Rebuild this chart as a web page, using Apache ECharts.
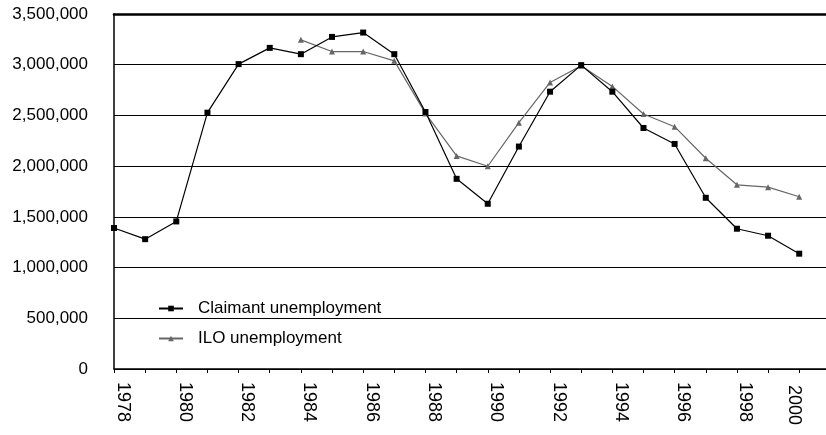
<!DOCTYPE html>
<html>
<head>
<meta charset="utf-8">
<script src="https://cdn.jsdelivr.net/npm/echarts@6/dist/echarts.min.js"></script>
<style>html,body{margin:0;padding:0;background:#fff;}#c{width:826px;height:435px;}</style>
</head>
<body>
<div id="c"></div>
<script>
const years = [1978,1979,1980,1981,1982,1983,1984,1985,1986,1987,1988,1989,1990,1991,1992,1993,1994,1995,1996,1997,1998,1999,2000];
const claimant = [1390000,1280000,1455000,2527000,3006000,3166000,3104000,3274000,3317000,3104000,2534000,1875000,1629000,2193000,2734000,2996000,2734000,2376000,2219000,1688000,1383000,1314000,1137000];
const ilo = [null,null,null,null,null,null,3245000,3130000,3130000,3038000,2520000,2101000,1999000,2429000,2825000,2990000,2786000,2514000,2389000,2078000,1816000,1793000,1698000];
const yTicks = [0,500000,1000000,1500000,2000000,2500000,3000000,3500000];

const font = "Liberation Sans, Arial, Helvetica, sans-serif";
const chart = echarts.init(document.getElementById('c'), null, {renderer:'canvas'});
const pair = arr => years.map((y,i) => [y, arr[i]]);
const lastYear = years[years.length - 1];

chart.setOption({
  animation: false,
  backgroundColor: '#fff',
  grid: {left: 114, right: 0, top: 14, bottom: 66},
  legend: {
    orient: 'vertical', left: 158, top: 300, padding: 0, itemWidth: 24, itemHeight: 7, itemGap: 13,
    textStyle: {fontFamily: font, fontSize: 17, color: '#000', padding: [0,0,0,10]},
    data: ['Claimant unemployment','ILO unemployment']
  },
  xAxis: [{
    type: 'value', min: 1978, max: 2000.86, interval: 1,
    axisLine: {show: true, lineStyle: {color: '#000', width: 1.5}},
    axisTick: {show: true, length: 4, lineStyle: {color: '#000', width: 1}},
    splitLine: {show: false},
    axisLabel: {
      rotate: -90, margin: 13, fontFamily: font, fontSize: 18, color: '#000', verticalAlign: 'middle',
      formatter: v => (v % 2 !== 0 ? '' : (v === lastYear ? '{e|' + v + '}' : '{n|' + v + '}')),
      rich: {
        n: {fontFamily: font, fontSize: 18, color: '#000', padding: [0,0,17,0]},
        e: {fontFamily: font, fontSize: 18, color: '#000', padding: [11,0,0,3]}
      }
    }
  },{
    type: 'value', position: 'top', min: 1978, max: 2000.86,
    axisLine: {show: true, lineStyle: {color: '#000', width: 2.5}},
    axisTick: {show: false}, axisLabel: {show: false}, splitLine: {show: false}
  }],
  yAxis: {
    type: 'value', min: 0, max: 3500000, interval: 500000,
    axisLine: {show: true, lineStyle: {color: '#000', width: 1.5}},
    axisTick: {show: false},
    splitLine: {show: true, lineStyle: {color: '#000', width: 1}},
    axisLabel: {
      margin: 26, fontFamily: font, fontSize: 17, color: '#000',
      formatter: v => yTicks.includes(v) ? v.toLocaleString('en-US') : ''
    }
  },
  series: [{
    name: 'Claimant unemployment', type: 'line', data: pair(claimant),
    symbol: 'rect', symbolSize: 6,
    lineStyle: {color: '#000', width: 1.2},
    itemStyle: {color: '#000'}, z: 3
  },{
    name: 'ILO unemployment', type: 'line', data: pair(ilo),
    symbol: 'triangle', symbolSize: 6,
    lineStyle: {color: '#666', width: 1.2},
    itemStyle: {color: '#666'}, z: 2
  }]
});
</script>
</body>
</html>
